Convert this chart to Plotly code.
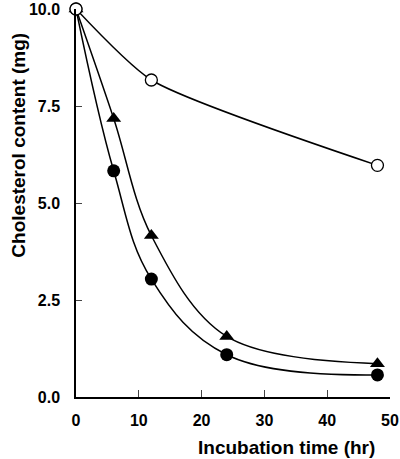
import plotly.graph_objects as go

# incubation time (hr) and cholesterol content (mg)
time_open = [0, 12, 48]
chol_open = [10.0, 8.17, 5.97]

time_tri = [0, 6, 12, 24, 48]
chol_tri = [10.0, 7.18, 4.16, 1.56, 0.86]

time_dot = [0, 6, 12, 24, 48]
chol_dot = [10.0, 5.83, 3.04, 1.09, 0.57]

x_ticks = [0, 10, 20, 30, 40, 50]
y_ticks = [0, 2.5, 5.0, 7.5, 10.0]

fig = go.Figure()
fig.add_trace(go.Scatter(x=time_dot, y=chol_dot, mode='lines+markers',
                         line=dict(color='black', width=1.5, shape='spline', smoothing=1.1),
                         marker=dict(symbol='circle', size=13, color='black')))
fig.add_trace(go.Scatter(x=time_tri, y=chol_tri, mode='lines+markers',
                         line=dict(color='black', width=1.5, shape='spline', smoothing=1),
                         marker=dict(symbol='triangle-up', size=13, color='black')))
fig.add_trace(go.Scatter(x=time_open, y=chol_open, mode='lines+markers',
                         line=dict(color='black', width=1.5, shape='spline', smoothing=0.6),
                         marker=dict(symbol='circle', size=12, color='white',
                                     line=dict(color='black', width=1.3))))
fig.update_traces(cliponaxis=False)

font = dict(family='Liberation Sans, Arial, sans-serif', color='black')
fig.update_layout(width=400, height=459, showlegend=False,
                  plot_bgcolor='white', paper_bgcolor='white',
                  margin=dict(l=76, r=10, t=9, b=62),
                  font=font)
fig.update_xaxes(range=[0, 50], tickvals=x_ticks, ticks='inside', ticklen=7, tickwidth=1.3,
                 showline=True, linecolor='black', linewidth=1.5, showgrid=False, zeroline=False,
                 automargin=False, ticklabeloverflow='allow', ticklabelstandoff=8,
                 tickfont=dict(size=16, weight='bold', **font))
fig.update_yaxes(range=[0, 10.0001], tickvals=y_ticks, tickformat='.1f', ticks='inside', ticklen=6, tickwidth=1.3,
                 showline=True, linecolor='black', linewidth=1.5, showgrid=False, zeroline=False,
                 automargin=False, ticklabeloverflow='allow', ticklabelstandoff=11,
                 tickfont=dict(size=16, weight='bold', **font))

# axis titles sit off-centre in the original, so place them as annotations
fig.add_annotation(text='Incubation time (hr)', xref='paper', yref='paper', x=0.669, y=-0.131,
                   xanchor='center', yanchor='middle', showarrow=False,
                   font=dict(size=19, weight='bold', **font))
fig.add_annotation(text='Cholesterol content (mg)', xref='paper', yref='paper', x=-0.182, y=0.65,
                   xanchor='center', yanchor='middle', showarrow=False, textangle=-90,
                   font=dict(size=19, weight='bold', **font))

# the page body has a default 8px margin; drop it so the figure sits at the corner
fig.write_html("out.html", config={'displayModeBar': False},
               post_script="document.body.style.margin='0';")
